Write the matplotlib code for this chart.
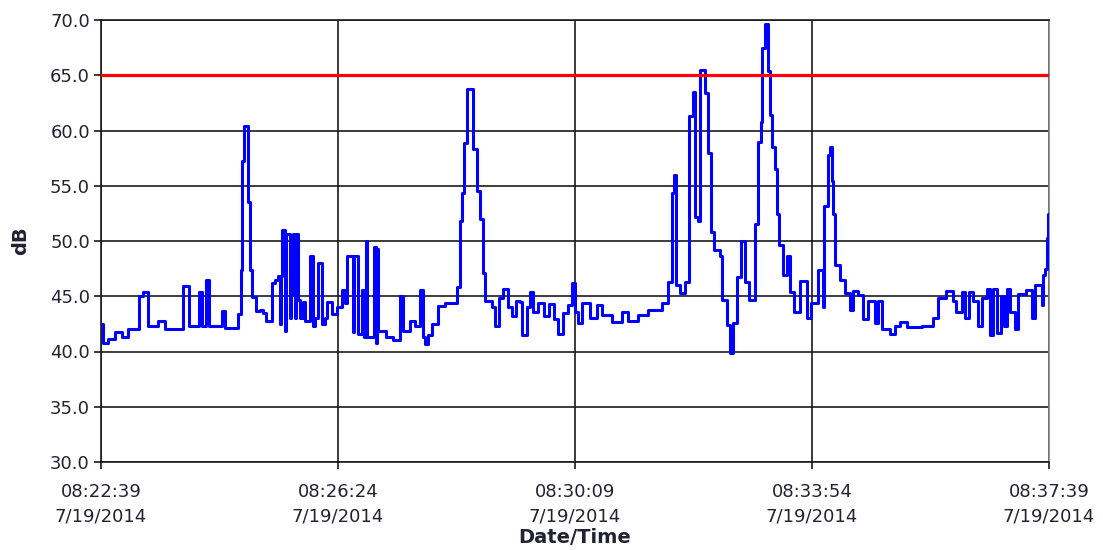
import matplotlib
matplotlib.use("Agg")
import matplotlib.pyplot as plt

# seconds after 08:22:39 and measured level (dB)
t_sec = [0, 2, 7, 13, 20, 26, 36, 40, 45, 54, 61, 78, 84, 93, 96, 100, 103, 115, 118, 130,
         133, 134, 136, 140, 141, 143, 147, 151, 154, 157, 162, 165, 168, 170, 171, 172, 175, 176,
         179, 180, 182, 184, 185, 187, 189, 192, 194, 198, 201, 203, 206, 210, 213, 215, 219, 224,
         229, 232, 234, 239, 240, 244, 248, 250, 252, 253, 259, 261, 262, 263, 271, 277, 284, 287,
         293, 298, 303, 306, 308, 310, 314, 320, 327, 338, 341, 343, 345, 347, 353, 357, 360,
         363, 365, 371, 374, 378, 382, 386, 390, 394, 398, 400, 404, 407, 410, 415, 421, 425, 430,
         434, 439, 443, 447, 450,
         453, 457, 464, 471, 476, 485, 495, 500, 510, 519, 533, 538, 542, 544, 546, 550, 554, 558,
         562, 564, 567, 569, 573, 576, 579, 582, 588, 590, 594, 597, 600, 604, 608,
         611, 615, 621, 624, 627, 628, 630, 633, 635, 637, 640, 642, 644, 647, 651, 654, 658, 664,
         670, 674, 681, 685, 686, 690, 692, 694, 695, 697, 702, 706, 711, 714, 719, 723, 728, 735,
         738, 741, 749, 754, 759, 765, 779, 790, 795, 802, 809, 812, 817, 820, 824, 828, 833, 836,
         841, 844, 847, 851, 854, 857, 860, 863, 868, 871, 878, 884, 887, 893, 894, 896, 898, 899, 900]
level_db = [42.5, 40.8, 41.1, 41.8, 41.3, 42.0, 45.0, 45.4, 42.3, 42.8, 42.0, 45.9, 42.3, 45.4, 42.3, 46.5, 42.3, 43.7, 42.1, 43.4,
            47.4, 57.2, 60.4, 53.5, 47.4, 44.9, 43.7, 43.8, 43.5, 42.8, 46.2, 46.5, 46.8, 42.5, 46.8, 51.0, 41.9, 50.6,
            43.0, 45.1, 50.6, 43.0, 50.6, 44.7, 43.0, 44.5, 42.8, 48.6, 42.3, 43.0, 48.0, 42.5, 43.0, 44.5, 43.4, 44.0,
            45.6, 44.4, 48.6, 41.8, 48.6, 41.6, 45.6, 41.3, 50.0, 41.3, 49.5, 40.8, 49.3, 41.9, 41.3, 41.0, 45.0, 41.9,
            42.8, 42.3, 45.6, 41.3, 40.7, 41.5, 42.5, 44.1, 44.4, 45.8, 51.8, 54.3, 58.9, 63.8, 58.3, 54.5, 52.0,
            47.1, 44.6, 44.0, 42.3, 44.8, 45.7, 44.0, 43.2, 44.6, 44.5, 41.5, 44.0, 45.4, 43.6, 44.4, 43.2, 44.3, 42.9,
            41.6, 43.5, 44.2, 46.2, 43.6,
            42.6, 44.4, 43.0, 44.2, 43.3, 42.7, 43.6, 42.8, 43.3, 43.8, 44.4, 46.3, 54.3, 56.0, 46.0, 45.3, 46.3, 61.3,
            63.5, 52.2, 51.8, 65.5, 63.4, 58.0, 50.8, 49.2, 48.6, 44.7, 42.4, 39.9, 42.6, 46.7, 50.0,
            46.3, 44.7, 51.5, 59.0, 60.8, 67.5, 69.6, 65.4, 61.4, 58.5, 56.5, 52.4, 49.6, 46.9, 48.6, 45.4, 43.6, 46.4,
            43.0, 44.4, 47.4, 44.0, 53.2, 57.8, 58.5, 55.4, 52.4, 47.8, 46.5, 45.3, 43.8, 45.5, 45.1, 42.9, 44.6, 42.6,
            44.6, 42.0, 41.6, 42.3, 42.7, 42.2, 42.3, 43.0, 44.8, 45.5, 44.6, 43.6, 45.4, 43.0, 45.4, 44.6, 42.3, 44.8,
            45.7, 41.5, 45.7, 41.7, 45.0, 42.3, 45.7, 43.6, 42.0, 45.2, 45.6, 43.0, 46.0, 44.2, 46.9, 47.5, 50.3, 52.4, 52.4]

limit_db = 65.0
x_ticks = [0, 225, 450, 675, 900]
x_tick_labels = ["08:22:39\n7/19/2014", "08:26:24\n7/19/2014", "08:30:09\n7/19/2014",
                 "08:33:54\n7/19/2014", "08:37:39\n7/19/2014"]
y_ticks = [30, 35, 40, 45, 50, 55, 60, 65, 70]

plt.rcParams['font.family'] = ['DejaVu Sans']
fig = plt.figure(figsize=(11.03, 5.5), dpi=100)
ax = fig.add_axes([101/1103, 1 - 462/550, 948/1103, 442/550])

ax.set_xlim(0, 900)
ax.set_ylim(30, 70)
ax.set_yticks(y_ticks)
ax.set_yticklabels([f"{v:.1f}" for v in y_ticks])
ax.set_xticks(x_ticks)
ax.set_xticklabels(x_tick_labels, linespacing=1.45)

ax.grid(True, color='#1a1a1a', linewidth=1.2, zorder=0)
ax.set_axisbelow(True)

ax.plot(t_sec, level_db, drawstyle='steps-post', color='#0000ff', linewidth=2.2, zorder=3)
ax.axhline(limit_db, color='#ff0000', linewidth=2.3, zorder=4)

for s in ['left', 'bottom', 'top']:
    ax.spines[s].set_color('#1a1a1a')
    ax.spines[s].set_linewidth(1.2)
ax.spines['right'].set_color('#808080')
ax.spines['right'].set_linewidth(1.2)

text_color = '#222233'
ax.tick_params(axis='both', direction='out', length=5, width=1.2, color='#1a1a1a',
               labelsize=13, labelcolor=text_color)
ax.tick_params(axis='y', pad=3)
ax.tick_params(axis='x', pad=10)

ax.set_xlabel("Date/Time", fontsize=14, fontweight='bold', color=text_color, labelpad=2)
ax.set_ylabel("dB", fontsize=14, fontweight='bold', color=text_color, labelpad=14)

fig.savefig("out.png", dpi=100)
